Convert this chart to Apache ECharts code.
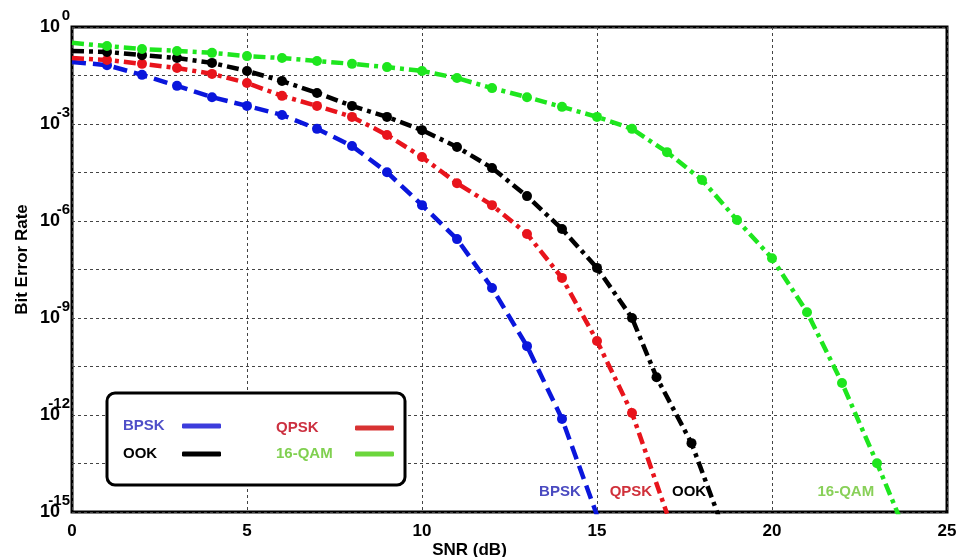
<!DOCTYPE html>
<html>
<head>
<meta charset="utf-8">
<script src="https://cdn.jsdelivr.net/npm/echarts@6/dist/echarts.min.js"></script>
<style>
html, body { margin: 0; padding: 0; background: #fff; }
#chart { width: 957px; height: 557px; }
</style>
</head>
<body>
<div id="chart"></div>
<script>
// values are log10(BER)
const bpskSnr = [0, 1, 2, 3, 4, 5, 6, 7, 8, 9, 10, 11, 12, 13, 14, 15];
const bpskLogBer = [-1.08, -1.18, -1.48, -1.82, -2.17, -2.44, -2.72, -3.15, -3.68, -4.49, -5.51, -6.56, -8.07, -9.87, -12.12, -15.1];

const qpskSnr = [0, 1, 2, 3, 4, 5, 6, 7, 8, 9, 10, 11, 12, 13, 14, 15, 16, 17];
const qpskLogBer = [-0.96, -1.02, -1.14, -1.27, -1.45, -1.73, -2.13, -2.44, -2.78, -3.34, -4.02, -4.83, -5.51, -6.4, -7.76, -9.71, -11.94, -15.05];

const ookSnr = [0, 1, 2, 3, 4, 5, 6, 7, 8, 9, 10, 11, 12, 13, 14, 15, 16, 16.7, 17.7, 18.5];
const ookLogBer = [-0.74, -0.77, -0.87, -0.96, -1.11, -1.36, -1.67, -2.04, -2.44, -2.78, -3.19, -3.71, -4.36, -5.23, -6.25, -7.45, -9.0, -10.83, -12.87, -15.2];

const qamSnr = [0, 1, 2, 3, 4, 5, 6, 7, 8, 9, 10, 11, 12, 13, 14, 15, 16, 17, 18, 19, 20, 21, 22, 23, 24];
const qamLogBer = [-0.49, -0.59, -0.68, -0.74, -0.8, -0.9, -0.96, -1.05, -1.14, -1.24, -1.36, -1.58, -1.89, -2.17, -2.47, -2.78, -3.15, -3.87, -4.73, -5.97, -7.15, -8.82, -11.01, -13.49, -16.1];

const seriesNames = ['BPSK', 'QPSK', 'OOK', '16-QAM'];
// text labels drawn next to the curve ends, in data coordinates
const noteSnr = [13.94, 15.97, 17.63, 22.11];
const noteLogBer = [-14.38, -14.38, -14.38, -14.38];

const FONT = 'Liberation Sans, Arial, sans-serif';

const chart = echarts.init(document.getElementById('chart'));

function pairs(xs, ys) {
    return xs.map((x, i) => [x, ys[i]]);
}

function curve(name, xs, ys, color, dash) {
    return {
        name: name,
        type: 'line',
        data: pairs(xs, ys),
        symbol: 'circle',
        symbolSize: (v) => (v[0] === 0 ? 0 : 10),
        itemStyle: { color: color },
        lineStyle: { color: color, width: 4.5, type: dash },
        z: 5
    };
}

function legendBox(left, top, textWidth, gap, items) {
    return {
        orient: 'vertical',
        left: left, top: top,
        padding: 0,
        align: 'right',
        icon: 'roundRect',
        itemWidth: 39, itemHeight: 5,
        itemGap: gap,
        formatter: (name) => '{n|' + name + '}',
        textStyle: {
            fontFamily: FONT, fontWeight: 'bold', fontSize: 15, lineHeight: 18,
            rich: { n: { width: textWidth, align: 'left' } }
        },
        data: items,
        z: 10
    };
}

const option = {
    animation: false,
    backgroundColor: '#fff',
    grid: {
        left: 72, right: 10, top: 27, bottom: 45,
        outerBoundsMode: 'none',
        containLabel: false,
        show: true,
        borderColor: '#000',
        borderWidth: 3,
        backgroundColor: 'transparent'
    },
    xAxis: {
        type: 'value',
        min: 0, max: 25, interval: 5,
        name: 'SNR (dB)',
        nameLocation: 'middle',
        nameGap: 30,
        nameMoveOverlap: false,
        nameTextStyle: { fontFamily: FONT, fontWeight: 'bold', fontSize: 17, color: '#000', padding: [0, 80, 0, 0] },
        axisLine: { show: false },
        axisTick: { show: false },
        axisLabel: { margin: 11, fontFamily: FONT, fontWeight: 'bold', fontSize: 17, color: '#000' },
        splitLine: { lineStyle: { color: '#444', width: 1, type: [3, 3] } }
    },
    yAxis: {
        type: 'value',
        min: -15, max: 0, interval: 1.5,
        name: 'Bit Error Rate',
        nameLocation: 'middle',
        nameGap: 41,
        nameMoveOverlap: false,
        nameTextStyle: { fontFamily: FONT, fontWeight: 'bold', fontSize: 17, color: '#000', padding: [0, 0, 0, 20] },
        axisLine: { show: false },
        axisTick: { show: false },
        axisLabel: {
            margin: 2,
            padding: [0, 0, 6, 0],
            formatter: (v) => (v % 3 === 0 ? '{e|' + (v === 0 ? '0' : String(v)) + '}\n{b|10}' : ''),
            rich: {
                e: { fontFamily: FONT, fontWeight: 'bold', fontSize: 15, lineHeight: 6, color: '#000' },
                b: { fontFamily: FONT, fontWeight: 'bold', fontSize: 18, lineHeight: 16, color: '#000', padding: [0, 10, 0, 0] }
            }
        },
        splitLine: { lineStyle: { color: '#444', width: 1, type: [3, 3] } }
    },
    legend: [
        legendBox(123, 417, 54, 10, [
            { name: 'BPSK', itemStyle: { color: '#3c3cdc' }, textStyle: { color: '#4f4fc8' } },
            { name: 'OOK', itemStyle: { color: '#000' }, textStyle: { color: '#000' } }
        ]),
        legendBox(276, 419, 74, 8, [
            { name: 'QPSK', itemStyle: { color: '#d83232' }, textStyle: { color: '#cc3040' } },
            { name: '16-QAM', itemStyle: { color: '#6cd63c' }, textStyle: { color: '#80d050' } }
        ])
    ],
    series: [
        curve('BPSK', bpskSnr, bpskLogBer, '#0a16dc', [14, 7]),
        curve('QPSK', qpskSnr, qpskLogBer, '#e8141c', [12, 5, 4, 5]),
        curve('OOK', ookSnr, ookLogBer, '#000', [12, 5, 4, 5]),
        curve('16-QAM', qamSnr, qamLogBer, '#1ee61e', [12, 5, 4, 5])
    ]
};

chart.setOption(option);

const noteColors = ['#4a4ac0', '#d0303a', '#000', '#88d058'];
const graphics = [{
    type: 'rect',
    shape: { x: 107, y: 393, width: 298, height: 92, r: 8 },
    style: { fill: '#fff', stroke: '#000', lineWidth: 3 },
    z: 8
}];
seriesNames.forEach((name, i) => {
    const p = chart.convertToPixel({ gridIndex: 0 }, [noteSnr[i], noteLogBer[i]]);
    graphics.push({
        type: 'text',
        x: p[0], y: p[1],
        style: {
            text: name,
            fill: noteColors[i],
            font: 'bold 15px ' + FONT,
            align: 'center',
            verticalAlign: 'middle'
        },
        z: 6
    });
});
chart.setOption({ graphic: graphics });
</script>
</body>
</html>
